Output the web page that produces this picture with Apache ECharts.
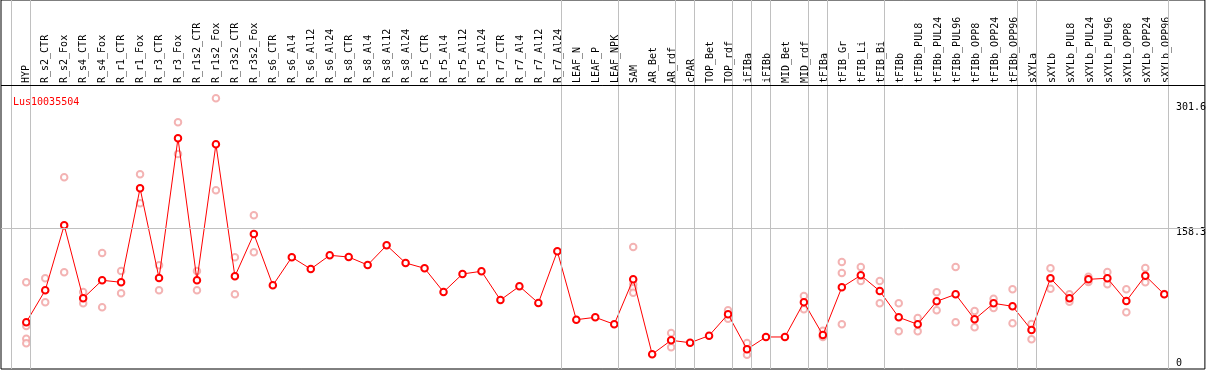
<!DOCTYPE html>
<html>
<head>
<meta charset="utf-8">
<script src="https://cdn.jsdelivr.net/npm/echarts@6/dist/echarts.min.js"></script>
<style>
  html, body { margin: 0; padding: 0; background: #fff; }
  #chart { width: 1209px; height: 370px; }
</style>
</head>
<body>
<div id="chart"></div>
<script>
var geneName = 'Lus10035504';

var samples = ['HYP', 'R_s2_CTR', 'R_s2_Fox', 'R_s4_CTR', 'R_s4_Fox', 'R_r1_CTR', 'R_r1_Fox',
	'R_r3_CTR', 'R_r3_Fox', 'R_r1s2_CTR', 'R_r1s2_Fox', 'R_r3s2_CTR', 'R_r3s2_Fox',
	'R_s6_CTR', 'R_s6_Al4', 'R_s6_Al12', 'R_s6_Al24', 'R_s8_CTR', 'R_s8_Al4', 'R_s8_Al12', 'R_s8_Al24',
	'R_r5_CTR', 'R_r5_Al4', 'R_r5_Al12', 'R_r5_Al24', 'R_r7_CTR', 'R_r7_Al4', 'R_r7_Al12', 'R_r7_Al24',
	'LEAF_N', 'LEAF_P', 'LEAF_NPK', 'SAM', 'AR_Bet', 'AR_rdf', 'cPAR', 'TOP_Bet', 'TOP_rdf',
	'iFIBa', 'iFIBb', 'MID_Bet', 'MID_rdf', 'tFIBa', 'tFIB_Gr', 'tFIB_Li', 'tFIB_Bi',
	'tFIBb', 'tFIBb_PUL8', 'tFIBb_PUL24', 'tFIBb_PUL96', 'tFIBb_OPP8', 'tFIBb_OPP24', 'tFIBb_OPP96',
	'sXYLa', 'sXYLb', 'sXYLb_PUL8', 'sXYLb_PUL24', 'sXYLb_PUL96', 'sXYLb_OPP8', 'sXYLb_OPP24', 'sXYLb_OPP96'];

// mean expression per sample
var means = [50.6, 87.2, 161.6, 78.1, 98.7, 96.4, 204.0, 101.3, 261.2, 98.7, 254.3, 103.2, 151.7,
	92.9, 125.1, 111.6, 127.3, 125.3, 116.2, 138.7, 118.5,
	112.4, 85.3, 105.9, 109.0, 76.1, 91.8, 72.7, 131.9,
	53.6, 56.3, 48.3, 99.8, 14.0, 30.0, 27.2, 35.3, 59.8,
	19.7, 33.8, 33.8, 73.5, 36.1, 90.7, 104.4, 86.4,
	56.3, 48.3, 74.6, 82.6, 54.0, 72.3, 68.9,
	41.8, 101.0, 78.1, 99.8, 101.0, 75.0, 103.9, 82.6];

// replicate values per sample
var replicates = [[96.4, 46.4, 31.8, 26.6], [101.0, 73.5], [216.6, 107.8], [85.3, 72.3], [129.9, 67.8],
	[109.3, 83.8], [220.0, 186.8], [115.8, 87.2], [279.5, 243.2], [109.3, 87.2], [307.0, 201.7],
	[125.0, 82.6], [173.1, 130.7],
	[], [], [], [], [], [], [], [],
	[], [], [], [], [], [], [], [],
	[], [], [], [136.8, 94.1, 89.9, 84.5], [], [38.3, 22.0], [], [], [64.3, 54.7],
	[26.9, 13.5], [], [], [80.7, 65.5], [41.0, 33.8], [119.6, 107.0, 48.3], [113.9, 97.9], [97.9, 72.3],
	[72.3, 40.3], [55.5, 40.3], [84.9, 64.3], [113.9, 50.6], [63.5, 44.9], [77.6, 67.0], [88.4, 49.5],
	[48.7, 31.1], [112.4, 89.1], [82.6, 74.2], [102.8, 96.7], [108.2, 94.1], [88.4, 62.0], [112.7, 96.4], [83.0]];

// last sample index of each tissue group
var groupEnds = [-1, 0, 28, 31, 34, 35, 37, 38, 39, 41, 42, 45, 52, 53, 60];

var yTicks = [0, 158.3, 301.6];
var refLine = 158.3;

var meanData = means.map(function (v, i) { return [i, v]; });
var repData = [];
replicates.forEach(function (list, i) {
	list.forEach(function (v) { repData.push([i, v]); });
});

var vLines = groupEnds.map(function (g) {
	return { xAxis: g + 0.232, lineStyle: { color: '#c0c0c0' } };
});
vLines.push({ yAxis: refLine, lineStyle: { color: '#c0c0c0' } });
vLines.push({ yAxis: 322.2, lineStyle: { color: '#000' } });

var mono = 'DejaVu Sans Mono';
var chart = echarts.init(document.getElementById('chart'));
chart.setOption({
	backgroundColor: '#fff',
	animation: false,
	title: {
		text: geneName,
		left: 8,
		top: 92,
		textStyle: { color: '#ff0000', fontSize: 10, fontFamily: mono, fontWeight: 'normal' }
	},
	grid: [{
		left: 1, right: 2, top: 0, bottom: 1,
		show: true, borderColor: '#000', borderWidth: 1
	}, {
		left: 16.8, width: 1159, top: 85, bottom: 1
	}],
	xAxis: [{
		type: 'value', gridIndex: 0, min: -1.332, max: 62.142, show: false
	}, {
		type: 'category', gridIndex: 1, position: 'top', data: samples,
		axisLine: { show: false }, axisTick: { show: false }, splitLine: { show: false },
		axisLabel: { interval: 0, rotate: 90, margin: 2, fontSize: 10, fontFamily: mono, color: '#000' }
	}],
	yAxis: [{
		type: 'value', gridIndex: 0, min: -2.85, max: 419.5, position: 'right',
		axisLine: { show: false }, axisTick: { show: false }, splitLine: { show: false },
		axisLabel: {
			inside: true, margin: 29, align: 'left', customValues: yTicks,
			fontSize: 10, fontFamily: mono, color: '#000',
			formatter: function (v) { return v === 0 ? '{lo|0}' : '{hi|' + v + '}'; },
			rich: {
				hi: { fontSize: 10, fontFamily: mono, color: '#000', padding: [9, 0, 0, 0] },
				lo: { fontSize: 10, fontFamily: mono, color: '#000', padding: [0, 0, 7, 0] }
			}
		}
	}, {
		type: 'value', gridIndex: 1, show: false
	}],
	series: [{
		type: 'scatter',
		xAxisIndex: 0, yAxisIndex: 0,
		data: repData,
		symbol: 'emptyCircle',
		symbolSize: 6.5,
		itemStyle: { color: '#f0a0a0', borderColor: '#f0a0a0', borderWidth: 1.3 },
		z: 2
	}, {
		type: 'line',
		xAxisIndex: 0, yAxisIndex: 0,
		data: meanData,
		symbol: 'emptyCircle',
		symbolSize: 6.5,
		lineStyle: { color: '#ff0000', width: 1 },
		itemStyle: { color: '#ff0000', borderColor: '#ff0000', borderWidth: 1.5 },
		z: 3,
		markLine: {
			silent: true,
			symbol: 'none',
			label: { show: false },
			lineStyle: { type: 'solid', width: 1 },
			data: vLines
		}
	}]
});
</script>
</body>
</html>
